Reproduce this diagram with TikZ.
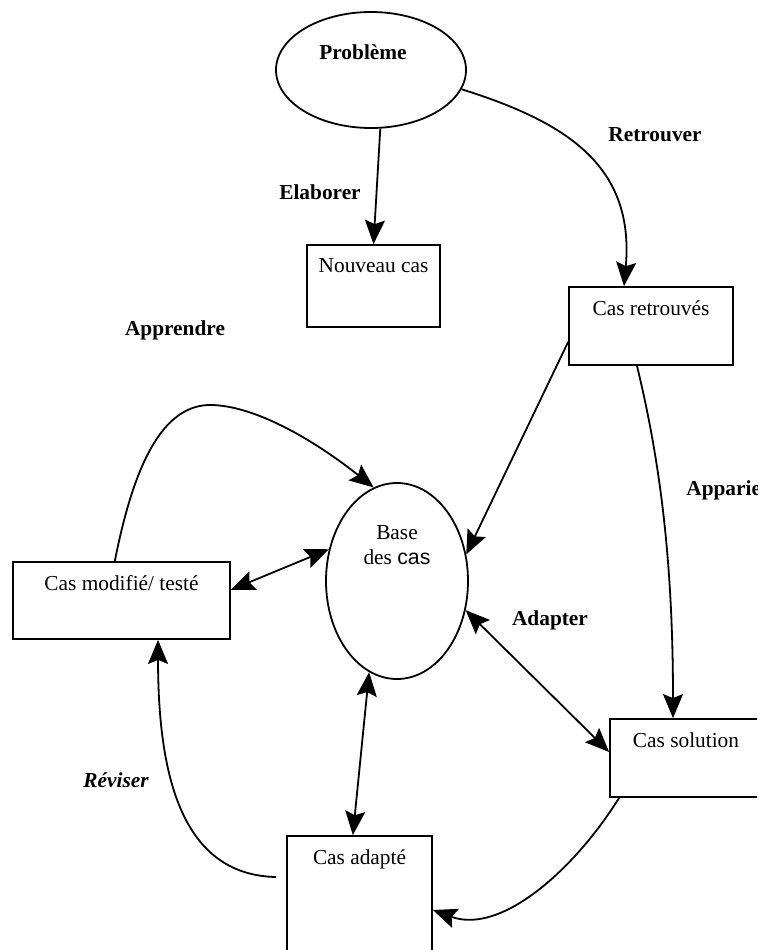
\documentclass[tikz,border=0pt]{standalone}
\usepackage{fontspec}
\setmainfont{Liberation Serif}
\newfontfamily\arialfont{Liberation Sans}
\usetikzlibrary{arrows.meta,shapes.geometric}
\newcommand\taille{\fontsize{16}{19}\selectfont}

\tikzset{
	every node/.style={font=\taille},
	fleche/.style={-{Stealth[length=18pt,width=15pt,inset=3pt]}},
	dfleche/.style={{Stealth[length=18pt,width=15pt,inset=3pt]}-{Stealth[length=18pt,width=15pt,inset=3pt]}},
	casbox/.style={draw, rectangle, inner sep=0pt},
	bulle/.style={draw, ellipse, inner sep=0pt},
	inbox/.style={anchor=north, yshift=-7pt},
	etape/.style={font=\taille\bfseries},
}

\begin{document}
\begin{tikzpicture}[x=0.75pt, y=-0.75pt, line width=1.35pt]
		%%%%% START %%%%%
		\useasboundingbox (0,0) rectangle (774,950);
		\clip (0,0) rectangle (757,950);
		
		% ellipses
		\node[bulle, minimum width=142.5pt, minimum height=87pt,
			label={[etape, xshift=-6pt, yshift=13.5pt]center:Problème}] (prob) at (371,70) {};
		\node[bulle, minimum width=106.5pt, minimum height=147pt,
			label={[align=center, yshift=27pt]center:Base\\des {\arialfont cas}}] (base) at (397,581) {};
		
		% boites
		\node[casbox, minimum width=99.75pt, minimum height=61.5pt,
			label={[inbox]north:Nouveau cas}] (nouv) at (373.5,286) {};
		\node[casbox, minimum width=123pt, minimum height=58.5pt,
			label={[inbox]north:Cas retrouvés}] (retr) at (651,326) {};
		\node[casbox, minimum width=162.75pt, minimum height=57.75pt,
			label={[inbox]north:Cas modifié/ testé}] (modif) at (121.5,600.5) {};
		\node[casbox, minimum width=114pt, minimum height=58.5pt,
			label={[inbox]north:Cas solution}] (sol) at (686,758) {};
		\node[casbox, minimum width=108.75pt, minimum height=93pt,
			label={[inbox]north:Cas adapté}] (adap) at (359.5,898) {};
		
		% fleches
		\draw[fleche] (prob.-81) -- (nouv.north);
		\draw[fleche] (prob.-12) .. controls +(102,32) and +(11,-122) .. ([xshift=-20.25pt]retr.north);
		\draw[fleche] ([xshift=-5pt]modif.north) .. controls +(20,-102) and +(-48,-2) .. (213,405)
			.. controls +(47,2) and +(-54,-43) .. (base.104);
		\draw[fleche] ([yshift=-12pt]retr.west) -- (base.21);
		\draw[fleche] ([xshift=-10.5pt]retr.south) .. controls +(23,95) and +(0,-157) .. ([xshift=-9.75pt]sol.north);
		\draw[dfleche] ([yshift=8pt]modif.east) -- (base.155);
		\draw[dfleche] (base.-23) -- ([yshift=4.5pt]sol.west);
		\draw[dfleche] (base.-107) -- ([xshift=-5pt]adap.north);
		\draw[fleche] ([xshift=7.5pt]sol.south west) .. controls +(-45,72) and +(68,25) .. ([yshift=-9pt]adap.east);
		\draw[fleche] ([xshift=-7.5pt,yshift=15.75pt]adap.west) .. controls +(-97,-2) and +(0,130) .. ([xshift=27.4pt]modif.south);
		
		% etapes
		\node[etape] (elab) at (320,192) {Elaborer};
		\node[etape] (retrv) at (655,135) {Retrouver};
		\node[etape] (appr) at (175,330) {Apprendre};
		\node[etape, anchor=west] (appar) at (681,490) {Apparier};
		\node[etape] (adapt) at (550,620) {Adapter};
		\node[etape, font=\taille\bfseries\itshape] (revis) at (116,780) {Réviser};
		
		%%%%% END %%%%%
	\end{tikzpicture}
\end{document}
